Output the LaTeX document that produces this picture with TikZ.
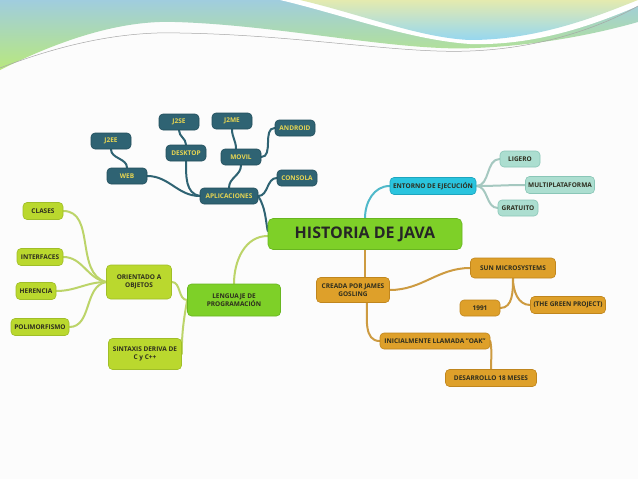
\documentclass[tikz,border=0pt]{standalone}
\usepackage{fontspec}
\setmainfont{Open Sans}
\usepackage{tikz}
\usetikzlibrary{backgrounds}
\definecolor{apl}{RGB}{47,99,115}
\definecolor{aplborde}{RGB}{33,78,92}
\definecolor{apltexto}{RGB}{232,214,82}
\definecolor{verde}{RGB}{126,208,40}
\definecolor{verdeborde}{RGB}{104,182,32}
\definecolor{lima}{RGB}{186,216,46}
\definecolor{limaborde}{RGB}{160,190,40}
\definecolor{limarama}{RGB}{188,212,105}
\definecolor{cian}{RGB}{42,196,222}
\definecolor{cianborde}{RGB}{30,165,190}
\definecolor{cianrama}{RGB}{80,185,202}
\definecolor{menta}{RGB}{172,222,208}
\definecolor{mentaborde}{RGB}{138,198,183}
\definecolor{mentarama}{RGB}{165,200,192}
\definecolor{naranja}{RGB}{222,160,42}
\definecolor{naranjaborde}{RGB}{192,134,30}
\definecolor{naranjarama}{RGB}{205,155,65}
\definecolor{texto}{RGB}{45,45,30}

\begin{document}
\begin{tikzpicture}[x=1pt,y=-1pt,
  tema/.style={rounded corners=4pt, draw, line width=.6pt, align=center, inner sep=2pt,
    font=\bfseries\fontsize{6.5}{7.5}\selectfont, minimum height=16pt, minimum width=40pt, text=texto},
  nodoapl/.style={tema, fill=apl, draw=aplborde, text=apltexto},
  nodolen/.style={tema, fill=lima, draw=limaborde},
  nodoent/.style={tema, fill=menta, draw=mentaborde},
  nodocre/.style={tema, fill=naranja, draw=naranjaborde},
  rama/.style={line width=2pt, line cap=round}]
\useasboundingbox (0,0) rectangle (638,479);
\begin{scope}[on background layer]
\fill[black!1] (0,0) rectangle (638,479);
\shade[top color={rgb,255:red,160;green,205;blue,222}, bottom color={rgb,255:red,185;green,232;blue,125}]
  (0,0) -- (0,70) .. controls (60,40) and (120,20) .. (175,22) .. controls (280,25) and (400,52) .. (475,48)
  .. controls (550,45) and (610,30) .. (638,22) -- (638,0) -- cycle;
\fill[white] (280,0) .. controls (340,14) and (410,40) .. (470,44) .. controls (540,46) and (600,22) .. (638,6) -- (638,0) -- cycle;
\shade[top color={rgb,255:red,228;green,234;blue,175}, bottom color={rgb,255:red,150;green,215;blue,240}]
  (300,0) .. controls (360,14) and (420,38) .. (470,40) .. controls (540,40) and (600,15) .. (638,0) -- cycle;
\draw[black!35, line width=.5pt] (0,68) .. controls (60,45) and (120,31) .. (180,33)
  .. controls (300,35) and (400,54) .. (470,51) .. controls (550,48) and (610,22) .. (638,6);
\end{scope}

\node[tema, fill=verde, draw=verdeborde, minimum width=194pt, minimum height=31pt, rounded corners=5pt,
  font=\bfseries\fontsize{16}{18}\selectfont, text=black!85] (hist) at (365,234) {HISTORIA DE JAVA};

\node[nodoapl, minimum width=58pt] (aplic) at (229,196) {APLICACIONES};
\node[nodoapl] (web) at (127,176) {WEB};
\node[nodoapl] (jee) at (111,141) {J2EE};
\node[nodoapl] (desk) at (186,153) {DESKTOP};
\node[nodoapl] (jse) at (179,122) {J2SE};
\node[nodoapl] (jme) at (232,121) {J2ME};
\node[nodoapl] (movil) at (241,157) {MOVIL};
\node[nodoapl] (andr) at (295,128) {ANDROID};
\node[nodoapl] (cons) at (297,178) {CONSOLA};

\node[nodolen, minimum height=17pt] (clases) at (43,211) {CLASES};
\node[nodolen, minimum width=46pt, minimum height=17pt] (interf) at (40,257) {INTERFACES};
\node[nodolen, minimum height=17pt] (heren) at (36,291) {HERENCIA};
\node[nodolen, minimum width=58pt, minimum height=17pt] (polim) at (40,327) {POLIMORFISMO};
\node[nodolen, minimum width=65pt, minimum height=34pt] (orient) at (139,282) {ORIENTADO A\\OBJETOS};
\node[nodolen, fill=verde, draw=verdeborde, minimum width=93pt, minimum height=32pt] (leng) at (234,300) {LENGUAJE DE\\PROGRAMACIÓN};
\node[nodolen, minimum width=73pt, minimum height=31pt] (sint) at (145,354) {SINTAXIS DERIVA DE\\C y C++};

\node[nodoent, fill=cian, draw=cianborde, minimum width=86pt, minimum height=17pt] (ent) at (433,186) {ENTORNO DE EJECUCIÓN};
\node[nodoent] (lig) at (520,159) {LIGERO};
\node[nodoent, minimum width=69pt, minimum height=17pt] (multi) at (560,185) {MULTIPLATAFORMA};
\node[nodoent] (grat) at (518,208) {GRATUITO};

\node[nodocre, minimum width=73pt, minimum height=25pt] (creada) at (353,290) {CREADA POR JAMES\\GOSLING};
\node[nodocre, minimum width=85pt, minimum height=20pt] (sun) at (513,268) {SUN MICROSYSTEMS};
\node[nodocre] (anio) at (480,308) {1991};
\node[nodocre, minimum width=75pt, minimum height=17pt] (green) at (568,305) {(THE GREEN PROJECT)};
\node[nodocre, minimum width=110pt] (inic) at (435,341) {INICIALMENTE LLAMADA "OAK"};
\node[nodocre, minimum width=91pt, minimum height=17pt] (desa) at (491,378) {DESARROLLO 18 MESES};

\begin{scope}[on background layer]
\draw[rama, apl] (aplic.east) to[out=-60,in=100] ([yshift=3pt]hist.west);
\draw[rama, apl] (web.east) to[out=0,in=180] (aplic.west);
\draw[rama, apl] (desk.south) to[out=-90,in=170] (aplic.west);
\draw[rama, apl] (movil.south) to[out=-90,in=90] (aplic.north);
\draw[rama, apl] (aplic.east) to[out=0,in=180] (cons.west);
\draw[rama, apl] (movil.east) to[out=0,in=180] (andr.west);
\draw[rama, apl] (jme.south) to[out=-90,in=90] ([xshift=-5pt]movil.north);
\draw[rama, apl] (jse.south) to[out=-90,in=90] (desk.north);
\draw[rama, apl] (jee.south) to[out=-90,in=90] (web.north);
\draw[rama, limarama] ([yshift=-2pt]hist.west) to[out=180,in=90] (leng.north);
\draw[rama, limarama] (leng.west) to[out=180,in=0] (orient.east);
\draw[rama, limarama] (leng.west) to[out=-100,in=90] (sint.east);
\draw[rama, limarama] (clases.east) to[out=0,in=165] (orient.west);
\draw[rama, limarama] (interf.east) to[out=0,in=170] (orient.west);
\draw[rama, limarama] (heren.east) to[out=0,in=180] (orient.west);
\draw[rama, limarama] (polim.east) to[out=0,in=190] (orient.west);
\draw[rama, cianrama] (hist.north) to[out=90,in=180] (ent.west);
\draw[rama, mentarama] (ent.east) to[out=0,in=180] (lig.west);
\draw[rama, mentarama] (ent.east) to[out=0,in=180] (multi.west);
\draw[rama, mentarama] (ent.east) to[out=0,in=180] (grat.west);
\draw[rama, naranjarama] (hist.south) to[out=-90,in=90] ([xshift=12pt]creada.north);
\draw[rama, naranjarama] (creada.east) to[out=0,in=180] (sun.west);
\draw[rama, naranjarama] (sun.south) to[out=-90,in=0] (anio.east);
\draw[rama, naranjarama] (sun.south) to[out=-90,in=180] (green.west);
\draw[rama, naranjarama] ([xshift=14pt]creada.south) to[out=-90,in=180] (inic.west);
\draw[rama, naranjarama] (inic.east) to[out=-80,in=90] (desa.north);
\end{scope}
\end{tikzpicture}
\end{document}
